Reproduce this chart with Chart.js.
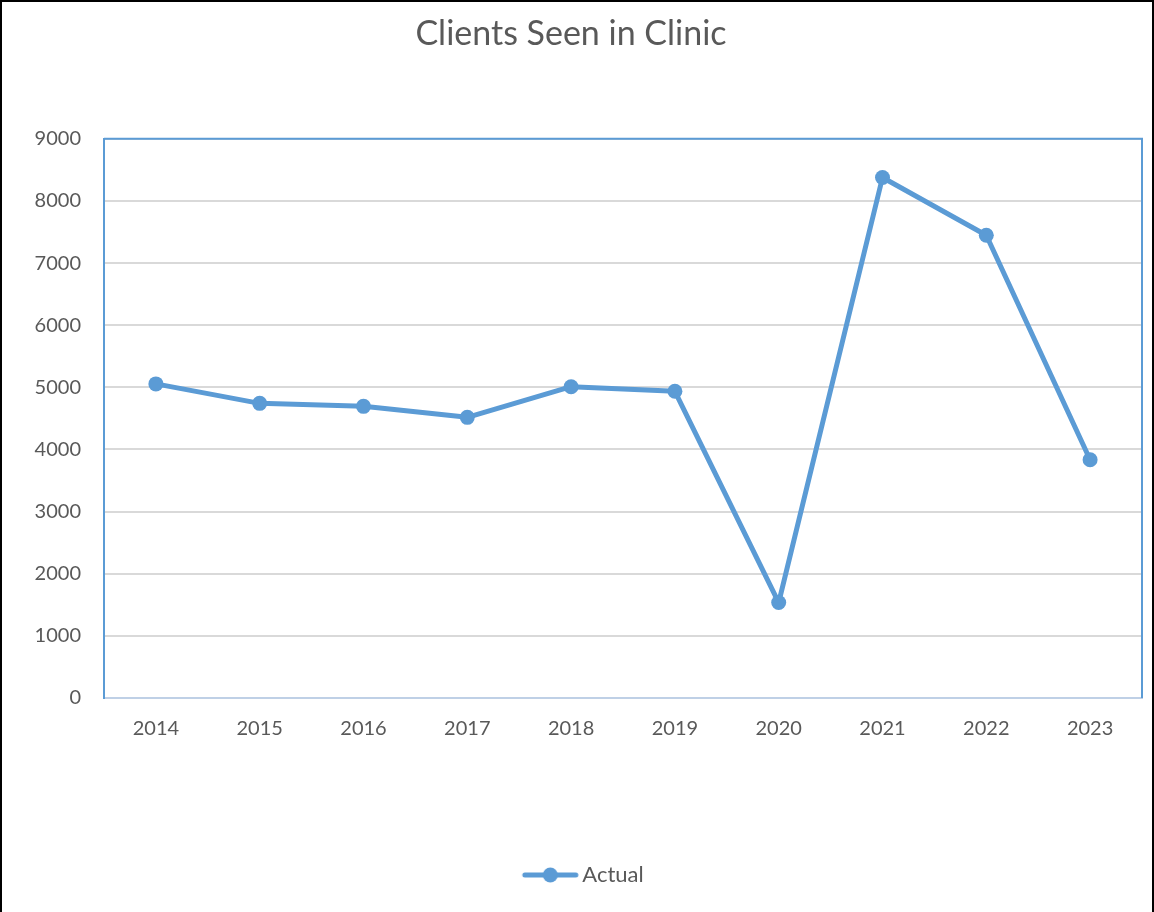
<!DOCTYPE html>
<html>
<head>
<meta charset="utf-8">
<script src="https://cdn.jsdelivr.net/npm/chart.js@4"></script>
<style>
    html, body { margin: 0; padding: 0; background: #FFFFFF; overflow: hidden; }
    #wrap { position: relative; width: 1154px; height: 912px; }
    #frame {
        position: absolute; left: 0; top: 0; width: 1154px; height: 920px;
        box-sizing: border-box; border: 2px solid #000000; pointer-events: none;
    }
</style>
</head>
<body>
<div id="wrap">
    <canvas id="clinicChart" width="1154" height="912"></canvas>
    <div id="frame"></div>
</div>
<script>
// Dados do gráfico
const years = ['2014', '2015', '2016', '2017', '2018', '2019', '2020', '2021', '2022', '2023'];
const actualClients = [5055, 4742, 4694, 4517, 5010, 4936, 1536, 8377, 7447, 3834];
const yTicks = [0, 1000, 2000, 3000, 4000, 5000, 6000, 7000, 8000, 9000];

// Cores
const theme = {
    line: '#5B9BD5',
    text: '#595959',
    grid: '#D9D9D9',
    axis: '#BFD0E6'
};
const fontFamily = "Lato, 'Liberation Sans', sans-serif";

// Ícone da legenda: linha com círculo (deslocado à direita dentro da imagem)
function makeLegendIcon() {
    const c = document.createElement('canvas');
    c.width = 100;
    c.height = 16;
    const g = c.getContext('2d');
    g.strokeStyle = theme.line;
    g.lineWidth = 5;
    g.lineCap = 'round';
    g.beginPath();
    g.moveTo(40, 8);
    g.lineTo(91, 8);
    g.stroke();
    g.fillStyle = theme.line;
    g.beginPath();
    g.arc(65.5, 8, 7.5, 0, Math.PI * 2);
    g.fill();
    return c;
}

// Borda superior e direita da área do gráfico
const plotFrame = {
    id: 'plotFrame',
    beforeDatasetsDraw(chart) {
        const { ctx, chartArea: a } = chart;
        ctx.save();
        ctx.strokeStyle = theme.line;
        ctx.lineWidth = 2;
        ctx.beginPath();
        ctx.moveTo(a.left, a.top);
        ctx.lineTo(a.right, a.top);
        ctx.lineTo(a.right, a.bottom);
        ctx.stroke();
        ctx.restore();
    }
};

const ctx = document.getElementById('clinicChart').getContext('2d');
new Chart(ctx, {
    type: 'line',
    data: {
        labels: years,
        datasets: [{
            label: 'Actual',
            data: actualClients,
            borderColor: theme.line,
            backgroundColor: theme.line,
            borderWidth: 5,
            tension: 0,
            pointRadius: 7.5,
            pointHoverRadius: 7.5,
            pointBackgroundColor: theme.line,
            pointBorderWidth: 0,
            borderCapStyle: 'round',
            borderJoinStyle: 'round'
        }]
    },
    options: {
        responsive: false,
        animation: false,
        devicePixelRatio: 1,
        layout: {
            padding: { top: 0, left: 0, right: 12, bottom: 16 }
        },
        plugins: {
            title: {
                display: true,
                text: 'Clients Seen in Clinic',
                color: theme.text,
                font: { family: fontFamily, size: 34, weight: 'normal', lineHeight: 1.2 },
                padding: { top: 14, bottom: 84 }
            },
            legend: {
                position: 'bottom',
                labels: {
                    usePointStyle: true,
                    pointStyle: makeLegendIcon(),
                    pointStyleWidth: 73,
                    padding: 16,
                    color: theme.text,
                    font: { family: fontFamily, size: 22 }
                }
            },
            tooltip: { enabled: false }
        },
        scales: {
            x: {
                offset: true,
                grid: { display: false, drawTicks: false },
                border: { display: true, color: theme.axis, width: 2 },
                ticks: {
                    color: theme.text,
                    padding: 19,
                    maxRotation: 0,
                    font: { family: fontFamily, size: 20 }
                },
                afterFit(scale) { scale.height = 150; }
            },
            y: {
                min: 0,
                max: 9000,
                afterBuildTicks(scale) {
                    scale.ticks = yTicks.map(v => ({ value: v }));
                },
                grid: { color: theme.grid, lineWidth: 2, drawTicks: false },
                border: { display: true, color: theme.line, width: 2 },
                ticks: {
                    color: theme.text,
                    padding: 23,
                    font: { family: fontFamily, size: 20 },
                    callback: value => String(value)
                },
                afterFit(scale) { scale.width = 104; }
            }
        }
    },
    plugins: [plotFrame]
});
</script>
</body>
</html>
